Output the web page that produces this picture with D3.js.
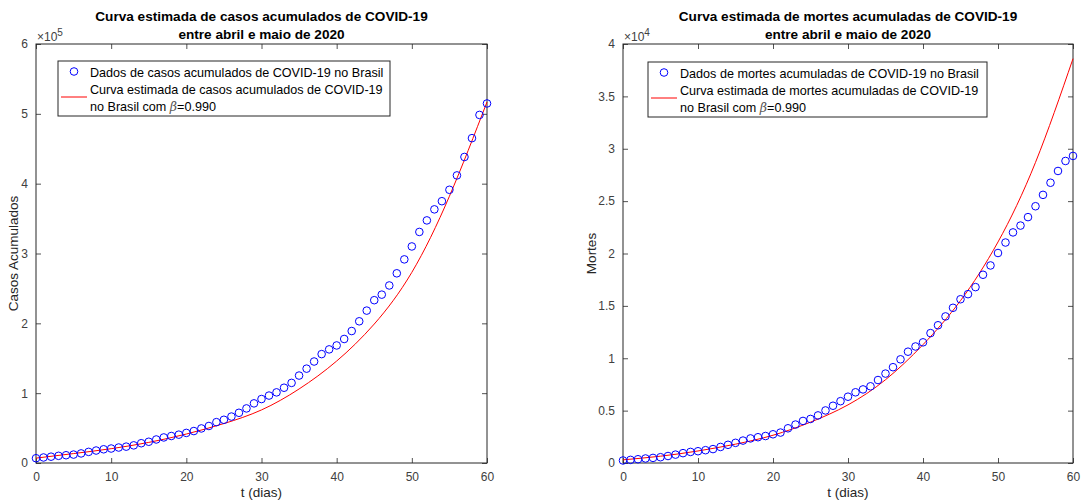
<!DOCTYPE html>
<html>
<head>
<meta charset="utf-8">
<script src="https://cdn.jsdelivr.net/npm/d3@7"></script>
<style>
  body { margin: 0; background: #fff; }
  svg { font-family: "Liberation Sans", Arial, sans-serif; }
  .tick text { fill: #404040; font-size: 12px; }
</style>
</head>
<body>
<svg id="chart" width="1082" height="503"></svg>
<script>
// dados diarios (t = 0..60, abril e maio de 2020)
var casos = [6836, 7910, 9056, 10278, 11130, 12056, 13717, 15927, 17857, 19638,
  20727, 22169, 23430, 25262, 28320, 30425, 33682, 36599, 38654, 40581,
  43079, 45757, 49492, 52995, 58509, 61888, 66501, 71886, 78162, 85380,
  91589, 96559, 101147, 107780, 114715, 125218, 135106, 145328, 155939, 162699,
  168331, 177589, 188974, 202918, 218223, 233142, 241080, 254220, 271628, 291579,
  310087, 330890, 347398, 363211, 374898, 391222, 411821, 438238, 465166, 498440,
  514849];
var mortes = [240, 299, 359, 432, 486, 553, 667, 800, 941, 1056,
  1124, 1223, 1328, 1532, 1736, 1924, 2141, 2347, 2462, 2575,
  2741, 2906, 3313, 3670, 4016, 4205, 4543, 5017, 5466, 5901,
  6329, 6750, 7025, 7321, 7921, 8536, 9146, 9897, 10627, 11123,
  11519, 12400, 13149, 13993, 14817, 15633, 16118, 16792, 17971, 18859,
  20047, 21048, 22013, 22666, 23473, 24512, 25598, 26754, 27878, 28834,
  29314];

// curva estimada
var tCurva = [0, 5, 10, 15, 20, 25, 30, 35, 40, 45, 50, 55, 60];
var casosCurva = [7000, 13500, 20500, 29500, 41500, 56500, 76000, 106000, 146000, 199000, 273000, 382000, 517000];
var mortesCurva = [300, 650, 1150, 1800, 2650, 3900, 5550, 7950, 11300, 15500, 21100, 28700, 38600];

var xTicks = [0, 10, 20, 30, 40, 50, 60];

function desenhaPainel(cfg){
    var svg = d3.select("#chart");
    var m = cfg.m;
    var width = m.right - m.left;
    var height = m.bottom - m.top;

    var x = d3.scaleLinear().domain([0, 60]).range([m.left, m.right]);
    var y = d3.scaleLinear().domain([0, cfg.ymax]).range([m.bottom, m.top]);

    var g = svg.append("g");

    // eixos com ticks para dentro (estilo matlab)
    var fmt = function(d){ return d3.format("~g")(d / cfg.escala); };
    g.append("g")
        .attr("transform", "translate(0," + m.bottom + ")")
        .call(d3.axisBottom(x).tickValues(xTicks).tickSizeInner(-5).tickSizeOuter(0).tickPadding(9));
    g.append("g")
        .attr("transform", "translate(0," + m.top + ")")
        .call(d3.axisTop(x).tickValues(xTicks).tickSizeInner(-5).tickSizeOuter(0).tickFormat(""));
    g.append("g")
        .attr("transform", "translate(" + m.left + ",0)")
        .call(d3.axisLeft(y).tickValues(cfg.yTicks).tickSizeInner(-5).tickSizeOuter(0).tickPadding(8).tickFormat(fmt));
    g.append("g")
        .attr("transform", "translate(" + m.right + ",0)")
        .call(d3.axisRight(y).tickValues(cfg.yTicks).tickSizeInner(-5).tickSizeOuter(0).tickFormat(""));
    g.selectAll(".domain").remove();
    g.selectAll(".tick line").attr("stroke", "#262626").attr("stroke-width", 0.8);

    g.append("rect")
        .attr("x", m.left).attr("y", m.top)
        .attr("width", width).attr("height", height)
        .attr("fill", "none").attr("stroke", "#262626").attr("stroke-width", 1);

    // curva estimada
    var linha = d3.line()
        .x(function(d, i){ return x(tCurva[i]); })
        .y(function(d){ return y(d); })
        .curve(d3.curveNatural);
    g.append("path")
        .datum(cfg.curva)
        .attr("fill", "none")
        .attr("stroke", "#ff0000")
        .attr("stroke-width", 1)
        .attr("d", linha);

    // dados
    g.selectAll("circle.dado")
        .data(cfg.dados)
      .enter().append("circle")
        .attr("class", "dado")
        .attr("cx", function(d, i){ return x(i); })
        .attr("cy", function(d){ return y(d); })
        .attr("r", 3.8)
        .attr("fill", "none")
        .attr("stroke", "#0000ff")
        .attr("stroke-width", 1);

    // titulo
    var cx = (m.left + m.right) / 2;
    g.append("text").attr("x", cx).attr("y", 20.5)
        .attr("text-anchor", "middle").attr("font-weight", "bold").attr("font-size", 13.6)
        .text(cfg.titulo1);
    g.append("text").attr("x", cx).attr("y", 38.5)
        .attr("text-anchor", "middle").attr("font-weight", "bold").attr("font-size", 13.6)
        .text("entre abril e maio de 2020");

    // expoente
    var ex = g.append("text").attr("x", m.left + 1).attr("y", m.top - 3)
        .attr("fill", "#404040").attr("font-size", 12);
    ex.append("tspan").text("\u00d710");
    ex.append("tspan").attr("dy", -5).attr("font-size", 10).text(cfg.expoente);

    // rotulos
    g.append("text").attr("x", cx).attr("y", 497)
        .attr("text-anchor", "middle").attr("fill", "#262626").attr("font-size", 13.5)
        .text("t (dias)");
    g.append("text")
        .attr("transform", "translate(" + cfg.ylabelX + "," + ((m.top + m.bottom) / 2) + ") rotate(-90)")
        .attr("text-anchor", "middle").attr("fill", "#262626").attr("font-size", 13.5)
        .text(cfg.ylabel);

    // legenda
    var L = cfg.leg;
    g.append("rect")
        .attr("x", L.x).attr("y", L.y).attr("width", L.w).attr("height", L.h)
        .attr("fill", "#fff").attr("stroke", "#262626").attr("stroke-width", 1);
    g.append("circle")
        .attr("cx", L.x + 16).attr("cy", L.y + 10.5).attr("r", 3.8)
        .attr("fill", "none").attr("stroke", "#0000ff");
    g.append("line")
        .attr("x1", L.x + 3).attr("x2", L.x + 29)
        .attr("y1", L.y + 36).attr("y2", L.y + 36)
        .attr("stroke", "#ff0000");
    var tx = L.x + 32;
    var fs = 12.6;
    g.append("text").attr("x", tx).attr("y", L.y + 15.5).attr("font-size", fs).text(cfg.leg1);
    g.append("text").attr("x", tx).attr("y", L.y + 32.5).attr("font-size", fs).text(cfg.leg2);
    var t3 = g.append("text").attr("x", tx).attr("y", L.y + 50).attr("font-size", fs);
    t3.append("tspan").text("no Brasil com ");
    t3.append("tspan").attr("font-family", "'DejaVu Serif', serif").attr("font-style", "italic").attr("fill", "#555").text("\u03b2");
    t3.append("tspan").text("=0.990");
}

desenhaPainel({
    m: {left: 36, right: 487, top: 44, bottom: 463},
    ymax: 600000, escala: 100000, expoente: "5",
    yTicks: [0, 100000, 200000, 300000, 400000, 500000, 600000],
    dados: casos, curva: casosCurva,
    titulo1: "Curva estimada de casos acumulados de COVID-19",
    ylabel: "Casos Acumulados", ylabelX: 18,
    leg: {x: 58, y: 61, w: 332, h: 55},
    leg1: "Dados de casos acumulados de COVID-19 no Brasil",
    leg2: "Curva estimada de casos acumulados de COVID-19"
});

desenhaPainel({
    m: {left: 623, right: 1073, top: 44, bottom: 463},
    ymax: 40000, escala: 10000, expoente: "4",
    yTicks: [0, 5000, 10000, 15000, 20000, 25000, 30000, 35000, 40000],
    dados: mortes, curva: mortesCurva,
    titulo1: "Curva estimada de mortes acumuladas de COVID-19",
    ylabel: "Mortes", ylabelX: 596,
    leg: {x: 648, y: 62, w: 339, h: 55},
    leg1: "Dados de mortes acumuladas de COVID-19 no Brasil",
    leg2: "Curva estimada de mortes acumuladas de COVID-19"
});
</script>
</body>
</html>
